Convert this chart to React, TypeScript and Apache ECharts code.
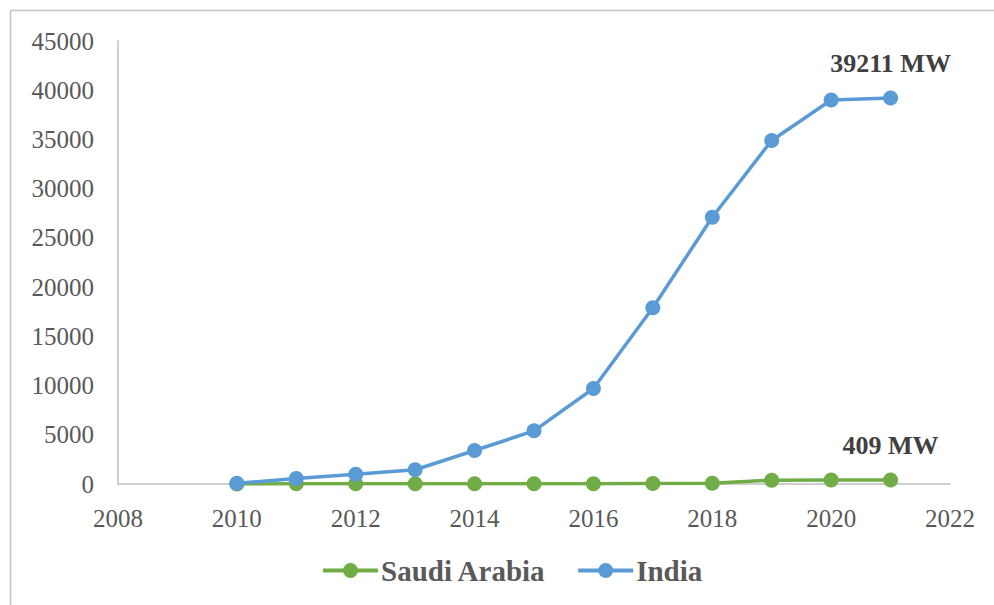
import React, { useEffect, useRef } from "react";
import * as echarts from "echarts";

const years = [2010, 2011, 2012, 2013, 2014, 2015, 2016, 2017, 2018, 2019, 2020, 2021];
const saudiArabia = [3, 15, 19, 19, 24, 25, 25, 50, 80, 389, 409, 409];
const india = [65, 560, 1000, 1450, 3400, 5400, 9700, 17900, 27100, 34900, 39000, 39211];
const seriesNames = ["Saudi Arabia", "India"];
const endLabels = ["409 MW", "39211 MW"];

const FONT = '"Liberation Serif", "Times New Roman", serif';
const LEGEND_ICON =
  "path://M0,5.5 H21 V9.5 H0 Z M34,5.5 H55 V9.5 H34 Z M20,7.5 A7.5,7.5 0 1 1 35,7.5 A7.5,7.5 0 1 1 20,7.5 Z";

function buildData(values: number[], label: string) {
  return values.map((v, i) => {
    if (i === values.length - 1) {
      return {
        value: [years[i], v],
        label: {
          show: true,
          position: "top",
          distance: 14,
          formatter: label,
          fontFamily: FONT,
          fontWeight: "bold",
          fontSize: 26,
          color: "#404040",
        },
      };
    }
    return { value: [years[i], v] };
  });
}

export default function App() {
  const ref = useRef<HTMLDivElement>(null);
  useEffect(() => {
    if (!ref.current) return;
    const chart = echarts.init(ref.current, undefined, { renderer: "svg" });
    chart.setOption({
      animation: false,
      backgroundColor: "#ffffff",
      graphic: [
        {
          type: "rect",
          shape: { x: 10.5, y: 10.5, width: 1200, height: 800 },
          style: { fill: "none", stroke: "#c4c4c4", lineWidth: 1.5 },
          silent: true,
        },
      ],
      grid: { left: 118, right: 44, top: 41, bottom: 121, containLabel: false },
      legend: {
        data: seriesNames.map((n) => ({ name: n, icon: LEGEND_ICON })),
        bottom: 15,
        left: 318,
        itemWidth: 55,
        itemHeight: 15,
        itemGap: 32,
        textStyle: { fontFamily: FONT, fontWeight: "bold", fontSize: 29, color: "#595959", padding: [0, 0, 0, -2] },
      },
      xAxis: {
        type: "value",
        min: 2008,
        max: 2022,
        interval: 2,
        axisLine: { show: true, lineStyle: { color: "#bfbfbf", width: 1.5 } },
        axisTick: { show: false },
        splitLine: { show: false },
        axisLabel: { fontFamily: FONT, fontSize: 25, color: "#595959", margin: 22, formatter: (v: number) => String(v) },
      },
      yAxis: {
        type: "value",
        min: 0,
        max: 45000,
        interval: 5000,
        axisLine: { show: true, lineStyle: { color: "#bfbfbf", width: 1.5 } },
        axisTick: { show: false },
        splitLine: { show: false },
        axisLabel: { fontFamily: FONT, fontSize: 25, color: "#595959", margin: 24, formatter: (v: number) => String(v) },
      },
      series: [
        {
          name: seriesNames[0],
          type: "line",
          data: buildData(saudiArabia, endLabels[0]),
          symbol: "circle",
          symbolSize: 15,
          color: "#70ad47",
          lineStyle: { width: 3.5, color: "#70ad47" },
          itemStyle: { color: "#70ad47" },
          z: 2,
        },
        {
          name: seriesNames[1],
          type: "line",
          data: buildData(india, endLabels[1]),
          symbol: "circle",
          symbolSize: 15,
          color: "#5b9bd5",
          lineStyle: { width: 3.5, color: "#5b9bd5" },
          itemStyle: { color: "#5b9bd5" },
          z: 3,
        },
      ],
    });
    return () => chart.dispose();
  }, []);
  return (
    <div
      ref={ref}
      style={{ position: "absolute", left: 0, top: 0, width: 994, height: 605 }}
    />
  );
}
